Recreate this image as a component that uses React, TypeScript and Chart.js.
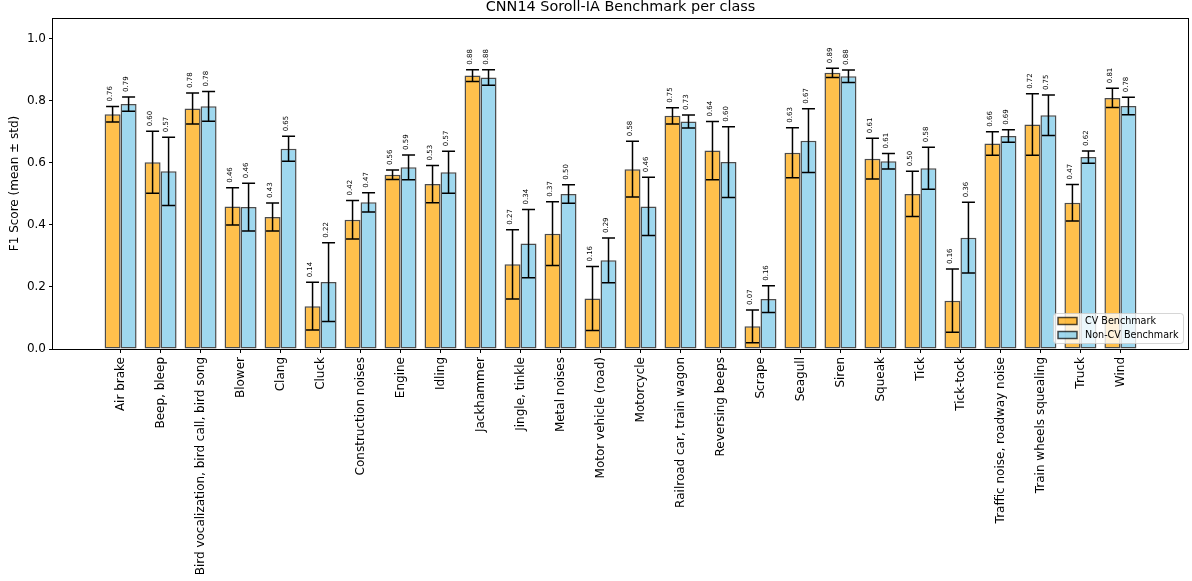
import React, { useEffect, useRef } from "react";
import { Chart, registerables } from "chart.js";

Chart.register(...registerables);

const title = "CNN14 Soroll-IA Benchmark per class";
const yAxisLabel = "F1 Score (mean ± std)";
const seriesNames = ["CV Benchmark", "Non-CV Benchmark"];

const categories = [
  "Air brake",
  "Beep, bleep",
  "Bird vocalization, bird call, bird song",
  "Blower",
  "Clang",
  "Cluck",
  "Construction noises",
  "Engine",
  "Idling",
  "Jackhammer",
  "Jingle, tinkle",
  "Metal noises",
  "Motor vehicle (road)",
  "Motorcycle",
  "Railroad car, train wagon",
  "Reversing beeps",
  "Scrape",
  "Seagull",
  "Siren",
  "Squeak",
  "Tick",
  "Tick-tock",
  "Traffic noise, roadway noise",
  "Train wheels squealing",
  "Truck",
  "Wind",
];

const cvMeans = [
  0.757, 0.602, 0.776, 0.46, 0.426, 0.138, 0.417, 0.562, 0.532, 0.882, 0.273, 0.372, 0.163,
  0.58, 0.752, 0.64, 0.073, 0.633, 0.891, 0.614, 0.5, 0.156, 0.663, 0.724, 0.472, 0.81,
];
const cvStds = [
  0.025, 0.1, 0.05, 0.06, 0.045, 0.077, 0.062, 0.015, 0.06, 0.019, 0.112, 0.103, 0.103,
  0.09, 0.026, 0.094, 0.053, 0.081, 0.015, 0.066, 0.073, 0.102, 0.038, 0.099, 0.059, 0.031,
];
const nonCvMeans = [
  0.79, 0.573, 0.783, 0.458, 0.646, 0.216, 0.473, 0.586, 0.57, 0.876, 0.34, 0.5, 0.286,
  0.46, 0.734, 0.603, 0.161, 0.672, 0.88, 0.606, 0.583, 0.359, 0.687, 0.754, 0.619, 0.784,
];
const nonCvStds = [
  0.023, 0.11, 0.048, 0.077, 0.04, 0.127, 0.031, 0.04, 0.068, 0.025, 0.11, 0.03, 0.072,
  0.094, 0.021, 0.114, 0.043, 0.103, 0.02, 0.025, 0.068, 0.114, 0.02, 0.065, 0.02, 0.028,
];
const yTicks = [0, 0.2, 0.4, 0.6, 0.8, 1.0];

const FONT = "'DejaVu Sans', sans-serif";
const ORANGE = "rgba(255,165,0,0.7)";
const BLUE = "rgba(135,206,235,0.8)";
const EDGE = "rgba(0,0,0,0.7)";

const W = 1192;
const H = 581;

export default function App() {
  const ref = useRef<HTMLCanvasElement | null>(null);

  useEffect(() => {
    const canvas = ref.current;
    if (!canvas) return;
    const stds = [cvStds, nonCvStds];
    const means = [cvMeans, nonCvMeans];
    const colors = [ORANGE, BLUE];

    const overlay = {
      id: "overlay",
      afterDatasetsDraw(chart: any) {
        const ctx = chart.ctx;
        const ys = chart.scales.y;
        const area = chart.chartArea;
        ctx.save();
        // error bars + value labels
        for (let d = 0; d < 2; d++) {
          const meta = chart.getDatasetMeta(d);
          meta.data.forEach((el: any, i: number) => {
            const m = means[d][i];
            const s = stds[d][i];
            const x = el.x;
            const yt = ys.getPixelForValue(m + s);
            const yb = ys.getPixelForValue(m - s);
            ctx.strokeStyle = "#000";
            ctx.lineWidth = 1.5;
            ctx.beginPath();
            ctx.moveTo(x, yt);
            ctx.lineTo(x, yb);
            ctx.moveTo(x - 6.5, yt);
            ctx.lineTo(x + 6.5, yt);
            ctx.moveTo(x - 6.5, yb);
            ctx.lineTo(x + 6.5, yb);
            ctx.stroke();
            ctx.save();
            ctx.translate(x - 2, yt - 5);
            ctx.rotate(-Math.PI / 2);
            ctx.fillStyle = "#000";
            ctx.font = `7px ${FONT}`;
            ctx.textAlign = "left";
            ctx.textBaseline = "middle";
            ctx.fillText(m.toFixed(2), 0, 0);
            ctx.restore();
          });
        }
        // spines
        ctx.strokeStyle = "#000";
        ctx.lineWidth = 1;
        ctx.strokeRect(
          Math.round(area.left) - 0.5,
          Math.round(area.top) + 0.5,
          Math.round(area.right - area.left) + 1,
          Math.round(area.bottom - area.top)
        );
        // title
        ctx.fillStyle = "#000";
        ctx.font = `14.4px ${FONT}`;
        ctx.textAlign = "center";
        ctx.textBaseline = "alphabetic";
        ctx.fillText(title, (area.left + area.right) / 2, 11);
        // y label
        ctx.save();
        ctx.translate(15, (area.top + area.bottom) / 2);
        ctx.rotate(-Math.PI / 2);
        ctx.font = `12px ${FONT}`;
        ctx.textAlign = "center";
        ctx.textBaseline = "middle";
        ctx.fillText(yAxisLabel, 0, 0);
        ctx.restore();
        // legend
        const lx = 1053.5, ly = 313.5, lw = 130, lh = 30;
        ctx.beginPath();
        if (ctx.roundRect) ctx.roundRect(lx, ly, lw, lh, 3);
        else ctx.rect(lx, ly, lw, lh);
        ctx.fillStyle = "rgba(255,255,255,0.8)";
        ctx.fill();
        ctx.strokeStyle = "rgba(204,204,204,0.8)";
        ctx.lineWidth = 1;
        ctx.stroke();
        for (let k = 0; k < 2; k++) {
          const cy = 321 + k * 14;
          ctx.fillStyle = colors[k];
          ctx.fillRect(1058, cy - 3.5, 19, 7);
          ctx.strokeStyle = EDGE;
          ctx.lineWidth = 1.5;
          ctx.strokeRect(1058, cy - 3.5, 19, 7);
          ctx.fillStyle = "#000";
          ctx.font = `9.6px ${FONT}`;
          ctx.textAlign = "left";
          ctx.textBaseline = "middle";
          ctx.fillText(seriesNames[k], 1085, cy);
        }
        ctx.restore();
      },
    };

    const chart = new Chart(canvas, {
      type: "bar",
      data: {
        datasets: [
          {
            label: seriesNames[0],
            data: categories.map((_, i) => ({ x: i, y: cvMeans[i] })),
            backgroundColor: ORANGE,
            borderColor: EDGE,
            borderWidth: 1.5,
            borderSkipped: false,
          },
          {
            label: seriesNames[1],
            data: categories.map((_, i) => ({ x: i, y: nonCvMeans[i] })),
            backgroundColor: BLUE,
            borderColor: EDGE,
            borderWidth: 1.5,
            borderSkipped: false,
          },
        ],
      },
      options: {
        responsive: false,
        animation: false,
        events: [],
        datasets: { bar: { categoryPercentage: 0.8, barPercentage: 1.0 } },
        layout: { padding: { top: 18, right: 4, left: 0, bottom: 0 } },
        plugins: {
          legend: { display: false },
          tooltip: { enabled: false },
          title: { display: false },
        },
        scales: {
          x: {
            type: "linear",
            min: -1.69,
            max: 26.69,
            offset: false,
            afterBuildTicks: (s: any) => {
              s.ticks = categories.map((_, i) => ({ value: i }));
            },
            afterFit: (s: any) => {
              s.height = H - 349;
            },
            grid: {
              display: true,
              offset: false,
              drawOnChartArea: false,
              drawTicks: true,
              tickLength: 4,
              color: "#000",
              lineWidth: 1,
            },
            border: { display: false },
            ticks: {
              autoSkip: false,
              maxRotation: 90,
              minRotation: 90,
              padding: 4,
              color: "#000",
              font: { family: FONT, size: 12 },
              callback: (_v: any, i: number) => categories[i],
            },
          },
          y: {
            type: "linear",
            min: 0,
            max: 1.0677,
            afterBuildTicks: (s: any) => {
              s.ticks = yTicks.map((v) => ({ value: v }));
            },
            afterFit: (s: any) => {
              s.width = 53;
            },
            grid: {
              display: true,
              drawOnChartArea: false,
              drawTicks: true,
              tickLength: 4,
              color: "#000",
              lineWidth: 1,
            },
            border: { display: false },
            ticks: {
              padding: 3,
              color: "#000",
              font: { family: FONT, size: 12 },
              callback: (v: any) => Number(v).toFixed(1),
            },
          },
        },
      },
      plugins: [overlay],
    });
    return () => chart.destroy();
  }, []);

  return (
    <div style={{ position: "absolute", left: 0, top: 0, width: W, height: H, background: "#fff" }}>
      <canvas ref={ref} width={W} height={H} style={{ display: "block", width: W, height: H }} />
    </div>
  );
}
